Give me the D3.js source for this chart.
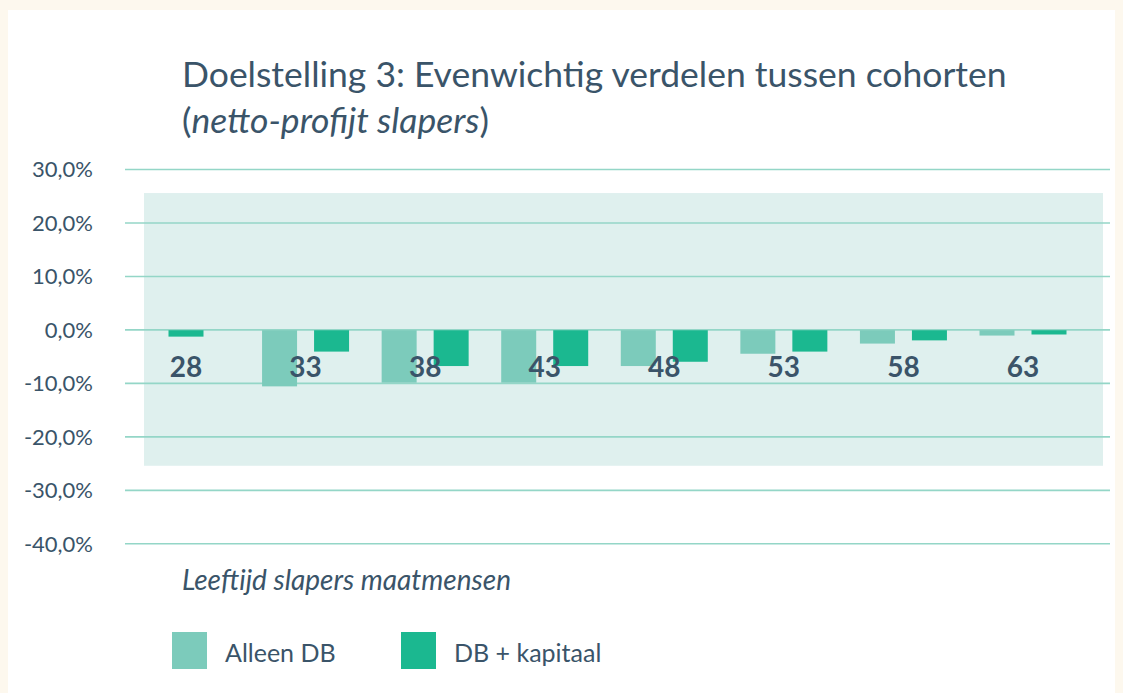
<!DOCTYPE html>
<html>
	<head>
		<meta charset="UTF-8">
		<title>Doelstelling 3</title>
		<style>
			html, body { margin: 0; padding: 0; background: #fdf8ee; }
			svg { display: block; }
			text { font-family: Lato, "Open Sans", sans-serif; fill: #3a5469; }
		</style>
	</head>
	<body>
		<script src="https://d3js.org/d3.v7.min.js" charset="utf-8"></script>
		<script>
		var width = 1123;
		var height = 693;

		// data
		var categories = ["28", "33", "38", "43", "48", "53", "58", "63"];
		var alleenDB = [null, -10.5, -9.8, -9.8, -6.7, -4.4, -2.5, -1.0];
		var dbKapitaal = [-1.2, -4.0, -6.7, -6.7, -5.9, -4.0, -1.9, -0.8];
		var seriesNames = ["Alleen DB", "DB + kapitaal"];
		var seriesColors = ["#7ccbbb", "#1bb890"];
		var yTicks = [30, 20, 10, 0, -10, -20, -30, -40];
		var band = [-25.5, 25.5];

		var nl = d3.formatLocale({decimal: ",", thousands: ".", grouping: [3], currency: ["€", ""], minus: "-"});
		var fmt = nl.format(".1f");

		var svg = d3.select("body").append("svg")
			.attr("width", width)
			.attr("height", height);

		// witte kaart op creme achtergrond
		svg.append("rect")
			.attr("x", 8).attr("y", 10)
			.attr("width", 1107).attr("height", height - 10)
			.attr("fill", "#ffffff");

		var y = d3.scaleLinear()
			.domain([-40, 30])
			.range([543.3, 169]);
		var x = d3.scalePoint()
			.domain(categories)
			.range([186, 1023]);

		// lichte achtergrondband
		svg.append("rect")
			.attr("x", 144)
			.attr("width", 959)
			.attr("y", y(band[1]))
			.attr("height", y(band[0]) - y(band[1]))
			.attr("fill", "#dff0ee");

		// y-as met rasterlijnen
		var gAxis = svg.append("g")
			.attr("transform", "translate(125,0)")
			.call(d3.axisLeft(y)
				.tickValues(yTicks)
				.tickSize(-985)
				.tickPadding(32)
				.tickFormat(function(d){ return fmt(d) + "%"; }));
		gAxis.select(".domain").remove();
		gAxis.selectAll(".tick line")
			.attr("stroke", "#94d6c7")
			.attr("stroke-width", 1.6);
		gAxis.selectAll(".tick text")
			.attr("font-size", 22)
			.attr("fill", "#3a5469")
			.attr("dy", "0.36em");

		// staven
		var barW = 35, gap = 17;
		var rows = categories.map(function(c, i){
			return {cat: c, vals: [alleenDB[i], dbKapitaal[i]]};
		});
		var groups = svg.selectAll(".grp")
			.data(rows)
			.enter()
			.append("g")
			.attr("class", "grp");
		groups.each(function(d){
			var g = d3.select(this);
			var present = d.vals.map(function(v, k){ return {v: v, k: k}; })
				.filter(function(e){ return e.v !== null; });
			var total = present.length * barW + (present.length - 1) * gap;
			var left = x(d.cat) - total / 2;
			present.forEach(function(e, j){
				g.append("rect")
					.attr("x", left + j * (barW + gap))
					.attr("width", barW)
					.attr("y", y(Math.max(0, e.v)) + 0.8)
					.attr("height", Math.abs(y(e.v) - y(0)))
					.attr("fill", seriesColors[e.k]);
			});
		});

		// categorie labels
		groups.append("text")
			.attr("x", function(d){ return x(d.cat); })
			.attr("y", 377)
			.attr("text-anchor", "middle")
			.attr("font-size", 28)
			.attr("font-weight", "bold")
			.text(function(d){ return d.cat; });

		// titels
		svg.append("text")
			.attr("x", 182).attr("y", 87)
			.attr("font-size", 35.5)
			.text("Doelstelling 3: Evenwichtig verdelen tussen cohorten");
		var sub = svg.append("text")
			.attr("x", 182).attr("y", 133)
			.attr("font-size", 35.5);
		sub.append("tspan").text("(");
		sub.append("tspan").attr("font-style", "italic").text("netto-profijt slapers");
		sub.append("tspan").text(")");

		svg.append("text")
			.attr("x", 182).attr("y", 590)
			.attr("font-size", 28)
			.attr("font-style", "italic")
			.text("Leeftijd slapers maatmensen");

		// legenda
		var legX = [172, 401];
		var leg = svg.selectAll(".leg")
			.data(seriesNames)
			.enter()
			.append("g")
			.attr("class", "leg")
			.attr("transform", function(d, i){ return "translate(" + legX[i] + ",632)"; });
		leg.append("rect")
			.attr("width", 35)
			.attr("height", 37)
			.attr("fill", function(d, i){ return seriesColors[i]; });
		leg.append("text")
			.attr("x", 53)
			.attr("y", 30)
			.attr("font-size", 25)
			.text(function(d){ return d; });
		</script>
	</body>
</html>
